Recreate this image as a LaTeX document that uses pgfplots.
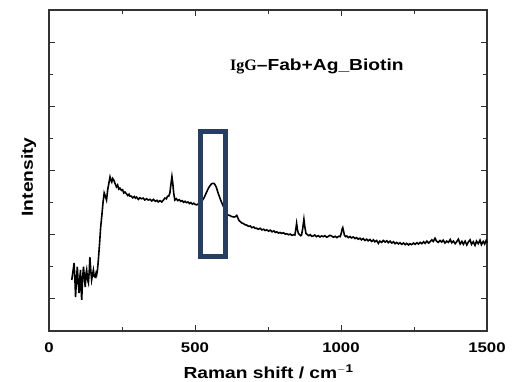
\documentclass[border=0pt]{standalone}
\usepackage{fontspec}
\setmainfont{Liberation Sans}[FakeStretch=1.2]
\newfontfamily\serifb{Liberation Serif}
\usepackage{pgfplots}
\pgfplotsset{compat=1.18}
\definecolor{boxnavy}{RGB}{38,62,100}
\begin{document}
\begin{tikzpicture}
\begin{axis}[
  at={(0,0)}, anchor=south west,
  scale only axis, width=438pt, height=321pt,
  xmin=0, xmax=1500, ymin=0, ymax=10,
  xtick={0,500,1000,1500}, minor xtick={250,750,1250},
  ytick={1,3,5,7,9}, minor ytick={2,4,6,8}, yticklabels={},
  tick align=inside, major tick length=6pt, minor tick length=4pt,
  axis line style={black!80, line width=1.1pt},
  every tick/.style={black!80, line width=0.9pt},
  /pgf/number format/assume math mode=true,
  /pgf/number format/1000 sep={},
  xticklabel style={font=\fontsize{14}{16}\selectfont\bfseries, yshift=-8pt},
  xlabel={Raman shift / cm$^{\mathbf{-1}}$},
  ylabel={Intensity},
  xlabel style={font=\fontsize{16}{18}\selectfont\bfseries, at={(axis description cs:0.5,0)}, anchor=base, yshift=-48pt},
  ylabel style={font=\fontsize{16}{18}\selectfont\bfseries, at={([xshift=-16pt]axis description cs:0,0.48)}, anchor=base},
  clip=false,
]
\addplot[black, line width=1.6pt] coordinates {
(78,1.59)(82,1.85)(86,2.12)(89,1.55)(91,1.06)(94,1.6)(97,2.0)(100,1.5)(103,1.18)(106,1.7)(108,1.9)(110,1.3)(112,0.97)(115,1.6)(118,2.0)(121,1.7)(124,1.37)(127,1.8)(129,1.9)(132,1.6)(135,1.5)(138,1.9)(140,2.3)(143,1.9)(146,1.59)(149,1.75)(152,1.9)(155,1.7)(158,1.68)(161,1.8)(163,1.74)(166,1.9)(169,2.21)(173,2.7)(177,3.24)(181,3.6)(185,4.0)(189,4.3)(193,4.2)(197,4.08)(201,4.4)(205,4.6)(209,4.8)(212,4.7)(215,4.64)(218,4.75)(222,4.7)(226,4.6)(231,4.49)(235,4.55)(239,4.42)(243,4.45)(248,4.38)(252,4.4)(256,4.3)(260,4.33)(265,4.28)(270,4.22)(274,4.26)(277,4.2)(282,4.2)(287,4.15)(292,4.19)(296,4.14)(300,4.17)(306,4.1)(311,4.15)(317,4.12)(323,4.14)(328,4.08)(334,4.12)(340,4.08)(346,4.1)(352,4.05)(358,4.1)(364,4.04)(370,4.07)(374,4.02)(380,4.06)(386,4.02)(392,4.08)(397,4.14)(402,4.12)(406,4.2)(410,4.2)(414,4.3)(418,4.6)(421,4.81)(424,4.6)(427,4.3)(431,4.08)(436,4.12)(441,4.06)(446,4.09)(451,4.04)(456,4.06)(461,4.01)(466,4.04)(471,4.0)(476,4.02)(481,3.97)(486,4.0)(491,3.95)(496,3.98)(501,3.94)(506,3.93)(511,3.96)(516,3.97)(521,4.0)(526,4.08)(531,4.15)(536,4.25)(541,4.35)(546,4.45)(551,4.52)(556,4.58)(561,4.6)(565,4.6)(569,4.55)(573,4.48)(577,4.36)(581,4.25)(585,4.15)(590,4.03)(595,3.93)(600,3.82)(605,3.72)(610,3.64)(614,3.61)(619,3.6)(624,3.57)(629,3.56)(634,3.55)(638,3.56)(643,3.6)(647,3.52)(651,3.44)(656,3.4)(661,3.36)(666,3.35)(671,3.31)(677,3.30)(683,3.26)(689,3.27)(695,3.22)(701,3.24)(706,3.2)(711,3.2)(717,3.17)(723,3.2)(729,3.15)(735,3.17)(740,3.13)(746,3.15)(752,3.11)(758,3.14)(764,3.09)(770,3.12)(775,3.07)(780,3.09)(786,3.05)(791,3.07)(797,3.04)(803,3.06)(809,3.02)(814,3.03)(820,3.0)(826,3.02)(832,2.98)(838,3.0)(842,2.99)(845,3.15)(848,3.35)(851,3.15)(854,3.04)(858,3.0)(862,2.97)(865,2.99)(869,3.2)(873,3.48)(876,3.25)(880,3.04)(885,3.0)(890,2.97)(895,3.0)(900,2.95)(905,2.96)(910,2.99)(916,2.94)(922,2.97)(928,2.93)(934,2.96)(939,2.94)(945,2.97)(951,2.92)(957,2.95)(962,2.98)(968,2.96)(974,2.92)(980,2.95)(986,2.91)(992,2.95)(997,2.94)(1001,3.05)(1004,3.18)(1006,3.22)(1009,3.1)(1012,2.98)(1016,2.94)(1020,2.96)(1025,2.91)(1031,2.94)(1036,2.9)(1042,2.93)(1048,2.88)(1053,2.91)(1059,2.86)(1065,2.89)(1070,2.84)(1076,2.88)(1082,2.82)(1088,2.86)(1093,2.81)(1099,2.85)(1105,2.79)(1111,2.84)(1116,2.78)(1122,2.82)(1128,2.73)(1133,2.8)(1139,2.76)(1145,2.82)(1151,2.77)(1157,2.81)(1162,2.75)(1168,2.8)(1174,2.74)(1180,2.78)(1185,2.72)(1191,2.76)(1197,2.71)(1202,2.75)(1208,2.7)(1214,2.74)(1220,2.69)(1225,2.73)(1231,2.68)(1236,2.72)(1242,2.69)(1248,2.74)(1254,2.7)(1260,2.75)(1265,2.71)(1271,2.76)(1277,2.72)(1283,2.78)(1288,2.73)(1294,2.8)(1300,2.74)(1305,2.78)(1311,2.84)(1316,2.79)(1322,2.89)(1327,2.8)(1333,2.76)(1339,2.82)(1345,2.77)(1350,2.83)(1356,2.74)(1362,2.8)(1368,2.76)(1374,2.85)(1379,2.75)(1385,2.8)(1391,2.72)(1396,2.78)(1402,2.86)(1408,2.71)(1414,2.79)(1419,2.7)(1425,2.8)(1431,2.68)(1436,2.77)(1442,2.84)(1447,2.7)(1453,2.78)(1459,2.67)(1464,2.8)(1470,2.72)(1476,2.83)(1481,2.69)(1487,2.79)(1492,2.71)(1497,2.82)(1500,2.75)
};
\draw[boxnavy, line width=5pt] (axis cs:519,2.32) rectangle (axis cs:604,6.21);
\node[anchor=base west, font=\fontsize{16}{18}\selectfont\bfseries, inner sep=0pt] at (axis cs:620,8.10) {{\serifb IgG}–Fab+Ag\_Biotin};
\end{axis}
\pgfresetboundingbox
\path (-49pt,-51pt) rectangle (468pt,331pt);
\end{tikzpicture}
\end{document}
